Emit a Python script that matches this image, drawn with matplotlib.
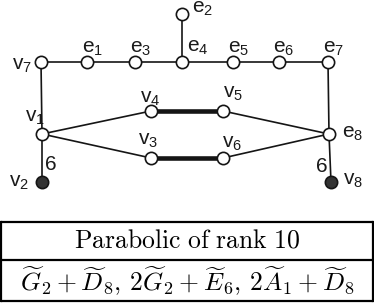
import matplotlib
matplotlib.use("Agg")
import matplotlib.pyplot as plt

plt.rcParams['mathtext.fontset'] = 'custom'
plt.rcParams['mathtext.rm'] = 'Liberation Sans'
plt.rcParams['mathtext.it'] = 'Liberation Sans'
plt.rcParams['font.family'] = ['Liberation Sans', 'DejaVu Sans']

# ---- data ----
node_names = ["v7", "e1", "e3", "e4", "e5", "e6", "e7", "e2",
              "v1", "v4", "v5", "v3", "v6", "e8", "v2", "v8"]
node_x = [41, 87, 135, 182, 233, 279, 328, 182,
          42, 151, 223, 151, 223, 329, 42, 331]
node_y = [62, 62, 62, 62, 62, 62, 62, 14,
          134, 111, 111, 158, 158, 134, 182, 182]
node_filled = ["v2", "v8"]
edges = [("v7", "e1"), ("e1", "e3"), ("e3", "e4"), ("e4", "e5"), ("e5", "e6"),
         ("e6", "e7"), ("e4", "e2"), ("v7", "v1"), ("e7", "e8"),
         ("v1", "v4"), ("v5", "e8"), ("v1", "v3"), ("v6", "e8"),
         ("v1", "v2"), ("e8", "v8")]
thick_edges = [("v4", "v5"), ("v3", "v6")]
edge_labels = {("v1", "v2"): "6", ("e8", "v8"): "6"}
# label baseline offsets (dx of left edge, dy of baseline) relative to node
label_pos = {
    "v7": (-29, 8),
    "e1": (-5, -9),
    "e3": (-5, -9),
    "e4": (5, -10),
    "e5": (-5, -9),
    "e6": (-6, -9),
    "e7": (-5, -9),
    "e2": (10, -1),
    "v1": (-17, -12),
    "v4": (-11, -8),
    "v5": (0, -13),
    "v3": (-13, -13),
    "v6": (-1, -10),
    "e8": (13, 4),
    "v8": (12, 3),
    "v2": (-33, 5),
}
edge_label_pos = {("v1", "v2"): (9, -18), ("e8", "v8"): (-9, -16)}
table_rows = [r"$\mathrm{Parabolic\ of\ rank\ 10}$",
              r"$\widetilde{G}_2+\widetilde{D}_8,\, 2\widetilde{G}_2+\widetilde{E}_6,\, 2\widetilde{A}_1+\widetilde{D}_8$"]

# ---- drawing ----
W, H = 374, 303
fig = plt.figure(figsize=(W / 100, H / 100), dpi=100)
ax = fig.add_axes([0, 0, 1, 1])
ax.set_xlim(0, W)
ax.set_ylim(H, 0)
ax.axis("off")

pos = {n: (x, y) for n, x, y in zip(node_names, node_x, node_y)}
ec = "#151515"
for a, b in edges:
    ax.plot([pos[a][0], pos[b][0]], [pos[a][1], pos[b][1]], color=ec, lw=1.2, zorder=1)
for a, b in thick_edges:
    ax.plot([pos[a][0], pos[b][0]], [pos[a][1], pos[b][1]], color=ec, lw=3.3, zorder=1,
            solid_capstyle="butt")

for n in node_names:
    x, y = pos[n]
    fc = "#333333" if n in node_filled else "white"
    ax.scatter([x], [y], s=78, facecolor=fc, edgecolor=ec, linewidth=1.2, zorder=3)
    dx, dy = label_pos[n]
    lab = n[0] + "$_{" + n[1:] + "}$"
    ax.text(x + dx, y + dy, lab, fontsize=15, ha="left", va="baseline", color="#1a1a1a")

for (a, b), t in edge_labels.items():
    dx, dy = edge_label_pos[(a, b)]
    ax.text(pos[b][0] + dx, pos[b][1] + dy, t, fontsize=15, ha="center", va="center",
            color="#1a1a1a")

# table
tl, tr = 1, 373
ty = [222, 260, 301]
for y in ty:
    ax.plot([tl, tr], [y, y], color="black", lw=1.6, solid_capstyle="butt", zorder=1)
ax.plot([tl, tl], [ty[0], ty[-1]], color="black", lw=1.6, zorder=1)
ax.plot([tr, tr], [ty[0], ty[-1]], color="black", lw=1.6, zorder=1)
ax.text(187, 247, table_rows[0], fontsize=18.5, ha="center", va="baseline",
        math_fontfamily="cm", zorder=4)
ax.text(187, 281, table_rows[1], fontsize=18.5, ha="center", va="center",
        math_fontfamily="cm", zorder=4)

fig.savefig("out.png", dpi=100)
